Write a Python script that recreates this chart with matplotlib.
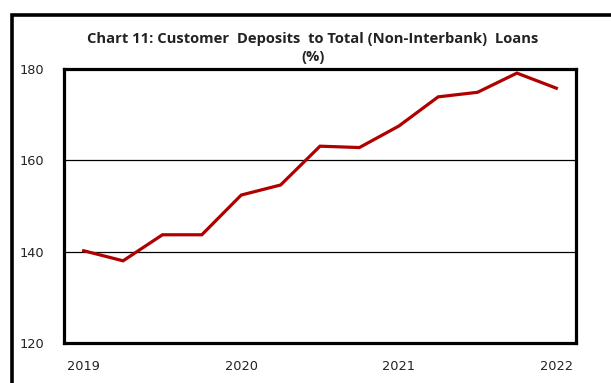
import matplotlib
matplotlib.use("Agg")
import matplotlib.pyplot as plt
from matplotlib.patches import Rectangle

# Quarterly ratio of customer deposits to total (non-interbank) loans, %
quarters = ["2019Q1", "2019Q2", "2019Q3", "2019Q4",
            "2020Q1", "2020Q2", "2020Q3", "2020Q4",
            "2021Q1", "2021Q2", "2021Q3", "2021Q4",
            "2022Q1"]
ratio = [140.2, 138.0, 143.7, 143.7,
         152.4, 154.6, 163.1, 162.8,
         167.5, 173.9, 174.9, 179.1,
         175.8]
year_labels = ["2019", "2020", "2021", "2022"]
y_ticks = [120, 140, 160, 180]

title_line1 = "Chart 11: Customer  Deposits  to Total (Non-Interbank)  Loans"
title_line2 = "(%)"

W, H = 611, 383
fig = plt.figure(figsize=(W / 100, H / 100), dpi=100)

# Outer chart frame (extends past the right and bottom edges)
fig.patches.append(Rectangle((11.5 / W, -0.05), 1.2, 1 - 15 / H + 0.05,
                             transform=fig.transFigure, fill=False,
                             edgecolor="black", linewidth=2.6))

ax = fig.add_axes([64 / W, 1 - 343 / H, (576 - 64) / W, (343 - 69) / H])

x = list(range(len(ratio)))
ax.plot(x, ratio, color="#B00000", linewidth=2.3, solid_joinstyle="miter")

ax.set_xlim(-0.5, len(ratio) - 0.5)
ax.set_ylim(120, 180)
ax.set_yticks(y_ticks)
ax.set_yticklabels([str(v) for v in y_ticks])
ax.set_xticks([quarters.index(y + "Q1") for y in year_labels])
ax.set_xticklabels(year_labels)

for v in y_ticks[1:-1]:
    ax.axhline(v, color="black", linewidth=0.9, zorder=1)

for s in ax.spines.values():
    s.set_linewidth(2.3)
    s.set_color("black")

ax.tick_params(axis="both", length=0, labelsize=9.3, colors="#222222")
ax.tick_params(axis="y", pad=14)
ax.tick_params(axis="x", pad=12)

title_kw = dict(ha="center", va="center", fontsize=10.6, fontweight="bold",
                family="Open Sans", color="#222222")
fig.text(313 / W, 1 - 39.5 / H, title_line1, **title_kw)
fig.text(313 / W, 1 - 57.5 / H, title_line2, **title_kw)

fig.savefig("out.png", dpi=100)
